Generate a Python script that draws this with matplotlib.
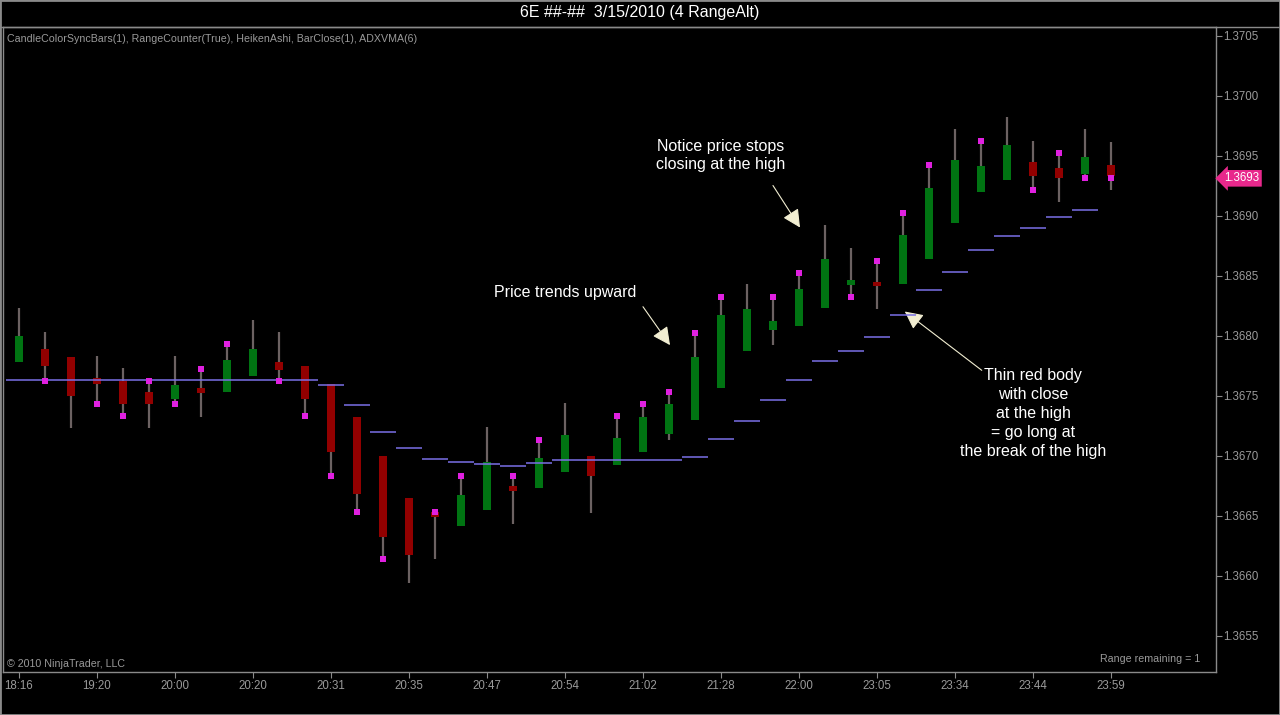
import numpy as np
import matplotlib
matplotlib.use("Agg")
import matplotlib.pyplot as plt
from matplotlib.lines import Line2D
from matplotlib.patches import Rectangle

plt.rcParams['font.family'] = ['Liberation Sans', 'DejaVu Sans']

# Heiken Ashi bars (price units)
opens = [1.36778, 1.36789, 1.36782, 1.36765, 1.36762, 1.36753, 1.36747, 1.36755,
         1.36753, 1.36766, 1.36778, 1.36775, 1.36760, 1.36732, 1.36700, 1.36665,
         1.36652, 1.36641, 1.36655, 1.36674, 1.36673, 1.36686, 1.36700, 1.36692,
         1.36703, 1.36718, 1.36730, 1.36756, 1.36787, 1.36805, 1.36808, 1.36823,
         1.36843, 1.36844, 1.36843, 1.36864, 1.36894, 1.36920, 1.36930, 1.36945,
         1.36940, 1.36935, 1.36942]
highs = [1.36823, 1.36803, 1.36782, 1.36783, 1.36773, 1.36763, 1.36783, 1.36772,
         1.36793, 1.36813, 1.36803, 1.36775, 1.36760, 1.36732, 1.36700, 1.36665,
         1.36653, 1.36683, 1.36724, 1.36683, 1.36713, 1.36744, 1.36700, 1.36733,
         1.36743, 1.36753, 1.36802, 1.36832, 1.36843, 1.36832, 1.36852, 1.36892,
         1.36873, 1.36862, 1.36902, 1.36942, 1.36972, 1.36962, 1.36982, 1.36962,
         1.36952, 1.36972, 1.36961]
lows = [1.36778, 1.36762, 1.36723, 1.36743, 1.36733, 1.36723, 1.36743, 1.36732,
        1.36753, 1.36766, 1.36762, 1.36733, 1.36683, 1.36653, 1.36614, 1.36594,
        1.36614, 1.36641, 1.36655, 1.36643, 1.36673, 1.36686, 1.36652, 1.36692,
        1.36703, 1.36713, 1.36730, 1.36756, 1.36787, 1.36792, 1.36808, 1.36823,
        1.36832, 1.36822, 1.36843, 1.36864, 1.36894, 1.36920, 1.36930, 1.36921,
        1.36911, 1.36931, 1.36921]
closes = [1.36800, 1.36775, 1.36750, 1.36760, 1.36743, 1.36743, 1.36759, 1.36753,
          1.36780, 1.36789, 1.36771, 1.36747, 1.36703, 1.36668, 1.36632, 1.36617,
          1.36650, 1.36667, 1.36695, 1.36671, 1.36698, 1.36717, 1.36683, 1.36715,
          1.36732, 1.36743, 1.36782, 1.36817, 1.36822, 1.36812, 1.36839, 1.36864,
          1.36845, 1.36842, 1.36884, 1.36923, 1.36946, 1.36941, 1.36959, 1.36933,
          1.36931, 1.36949, 1.36933]
nan = np.nan
# BarClose markers (real close), NaN where none is drawn
marks = [nan, 1.36762, nan, 1.36743, 1.36733, 1.36762, 1.36743, 1.36772,
         1.36793, nan, 1.36762, 1.36733, 1.36683, 1.36653, 1.36614, nan,
         1.36653, 1.36683, nan, 1.36683, 1.36713, nan, nan, 1.36733,
         1.36743, 1.36753, 1.36802, 1.36832, nan, 1.36832, 1.36852, nan,
         1.36832, 1.36862, 1.36902, 1.36942, nan, 1.36962, nan, 1.36921,
         1.36952, 1.36931, 1.36931]
# ADXVMA(6)
adx = [1.36763] * 12 + [1.36759, 1.36742, 1.36720, 1.36706, 1.36697, 1.36695,
       1.36693, 1.36691, 1.36694, 1.36696, 1.36696, 1.36696, 1.36696, 1.36696,
       1.36699, 1.36714, 1.36729, 1.36746, 1.36763, 1.36779, 1.36787, 1.36799,
       1.36817, 1.36838, 1.36853, 1.36871, 1.36883, 1.36890, 1.36899, 1.36905, nan]

tick_labels = ['18:16', '19:20', '20:00', '20:20', '20:31', '20:35', '20:47', '20:54',
               '21:02', '21:28', '22:00', '23:05', '23:34', '23:44', '23:59']
y_ticks = [1.3655, 1.3660, 1.3665, 1.3670, 1.3675, 1.3680, 1.3685,
           1.3690, 1.3695, 1.3700, 1.3705]

GRAY = '#8a8a8a'
TXT = '#9a9a9a'
W, H = 1280, 715

fig = plt.figure(figsize=(12.8, 7.15), dpi=100, facecolor='black')
ax = fig.add_axes([3 / W, 43 / H, 1213 / W, 645 / H], facecolor='black')

x = np.arange(len(opens))
o = np.array(opens)
c = np.array(closes)
up = c >= o
body_h = np.maximum(np.abs(c - o), 0.00004)
body_bot = (o + c) / 2 - body_h / 2
colors = np.where(up, '#007412', '#920000')

ax.vlines(x, lows, highs, color='#6c6262', lw=1.6, zorder=2)
ax.bar(x, body_h, bottom=body_bot, width=0.32, color=colors, zorder=3)
ax.hlines(adx, x - 0.5, x + 0.5, color='#7a70e6', lw=1.1, zorder=4)
ax.plot(x, marks, 's', color='#e020e0', ms=4, mew=0, zorder=5)

ax.set_xlim(-0.615, 46.04)
ax.set_ylim(1.365196, 1.370571)

ax.set_xticks(x[::3])
ax.set_xticklabels(tick_labels)
ax.yaxis.tick_right()
ax.set_yticks(y_ticks)
ax.set_yticklabels(['%.4f' % v for v in y_ticks])
ax.tick_params(colors=GRAY, labelcolor=TXT, labelsize=8.3, length=4, width=0.8, pad=1.5)
for s in ax.spines.values():
    s.set_color(GRAY)
    s.set_linewidth(1)

# last price tag
ax.annotate('%.4f' % marks[-1], xy=(1, marks[-1]), xycoords=('axes fraction', 'data'),
            xytext=(6, 0), textcoords='offset points', color='white', fontsize=8.3,
            va='center', ha='left', annotation_clip=False, zorder=10,
            bbox=dict(boxstyle='larrow,pad=0.2', fc='#e8288c', ec='none'))

# chart texts
fig.text(0.5, 1 - 13 / H, '6E ##-##  3/15/2010 (4 RangeAlt)', color='white',
         fontsize=11.5, ha='center', va='center')
ax.text(4 / 1213, 1 - 12 / 645, 'CandleColorSyncBars(1), RangeCounter(True), HeikenAshi, '
        'BarClose(1), ADXVMA(6)', transform=ax.transAxes, color=TXT, fontsize=7.7,
        ha='left', va='center')
ax.text(4 / 1213, 8 / 645, '\u00a9 2010 NinjaTrader, LLC', transform=ax.transAxes,
        color=TXT, fontsize=7.7, ha='left', va='center')
ax.text(1197 / 1213, 13 / 645, 'Range remaining = 1', transform=ax.transAxes,
        color=TXT, fontsize=7.7, ha='right', va='center')

arrow = dict(arrowstyle='-|>,head_length=1.1,head_width=0.55', color='#f2eed2', lw=0.8,
             shrinkA=0, shrinkB=0)
ax.text(21.0, 1.36836, 'Price trends upward', color='white', fontsize=11.5,
        ha='center', va='center')
ax.annotate('', xy=(25.04, 1.36792), xytext=(24.0, 1.36824), arrowprops=arrow)
ax.text(27.0, 1.36950, 'Notice price stops\nclosing at the high', color='white',
        fontsize=11.5, ha='center', va='center', linespacing=1.32)
ax.annotate('', xy=(30.04, 1.36890), xytext=(29.0, 1.36925), arrowprops=arrow)
ax.text(39.0, 1.36735, 'Thin red body\nwith close\nat the high\n= go long at\n'
        'the break of the high', color='white', fontsize=11.5, ha='center', va='center',
        linespacing=1.32)
ax.annotate('', xy=(34.07, 1.36820), xytext=(37.03, 1.36771), arrowprops=arrow)

# window frame
fig.add_artist(Line2D([0, 1], [1 - 27 / H] * 2, color=GRAY, lw=1))
fig.add_artist(Rectangle((0, 0), 1, 1, transform=fig.transFigure, fill=False,
                         ec=GRAY, lw=2))

fig.savefig('out.png', dpi=100, facecolor='black')
